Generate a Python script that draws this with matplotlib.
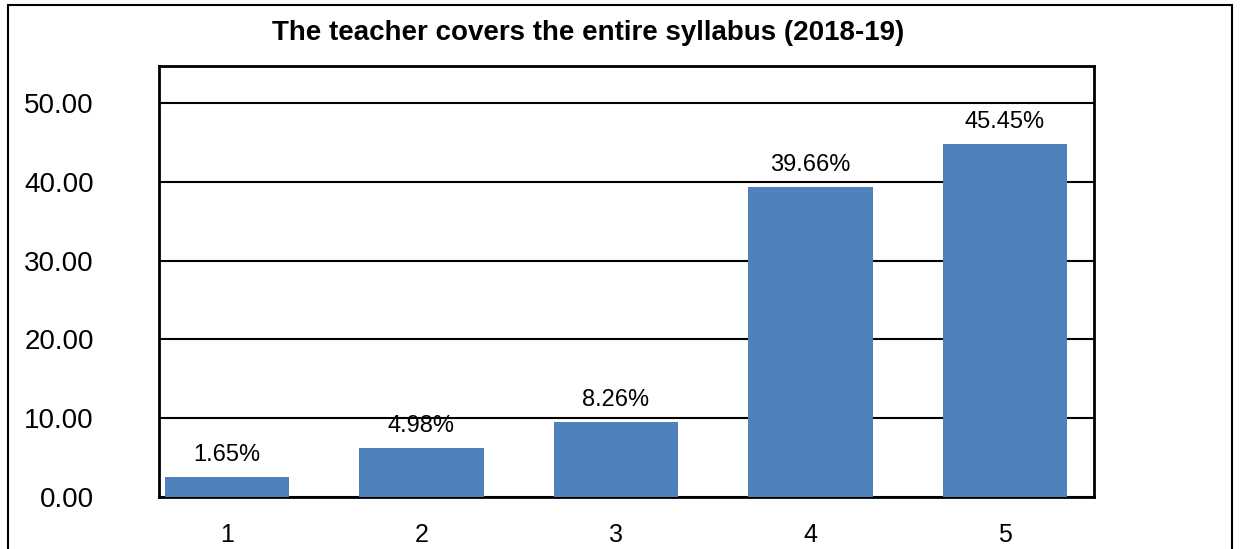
import matplotlib.pyplot as plt
from matplotlib.patches import Rectangle

# Values
categories = ["1", "2", "3", "4", "5"]
bar_heights = [2.5, 6.2, 9.5, 39.3, 44.8]
bar_labels = ["1.65%", "4.98%", "8.26%", "39.66%", "45.45%"]
y_ticks = [0, 10, 20, 30, 40, 50]

BAR_COLOR = "#4F81BD"
FONT = ["Liberation Sans", "DejaVu Sans"]


def main():
    fig = plt.figure(figsize=(12.42, 5.49), dpi=100)
    ax = fig.add_axes([0.128, 0.0947, 0.753, 0.785])

    # outer frame of the chart area
    fig.patches.append(Rectangle((8 / 1242, -0.05), 1224 / 1242, 1.05 - 5 / 549,
                                 transform=fig.transFigure, fill=False,
                                 edgecolor="black", linewidth=1.5))

    x = list(range(1, len(categories) + 1))
    ax.bar(x, bar_heights, width=0.64, color=BAR_COLOR, zorder=3)

    for xi, h, lab in zip(x, bar_heights, bar_labels):
        ax.annotate(lab, (xi, h), xytext=(0, 8), textcoords="offset points",
                    ha="center", va="bottom", fontsize=17, family=FONT)

    ax.set_xlim(0.65, 5.46)
    ax.set_ylim(0, 54.7)
    ax.set_xticks(x)
    ax.set_xticklabels(categories, family=FONT, fontsize=18)
    ax.set_yticks(y_ticks)
    ax.set_yticklabels([f"{v:.2f}" for v in y_ticks], family=FONT, fontsize=20)
    ax.tick_params(axis="both", length=0)
    ax.tick_params(axis="y", pad=47)
    ax.tick_params(axis="x", pad=19)

    ax.grid(axis="y", color="black", linewidth=1.5, zorder=1)
    for s in ax.spines.values():
        s.set_linewidth(2)
        s.set_color("black")

    fig.text(0.4735, 0.94, "The teacher covers the entire syllabus (2018-19)",
             ha="center", va="center", fontsize=20, fontweight="bold", family=FONT)

    fig.savefig("out.png", dpi=100)


if __name__ == "__main__":
    main()
